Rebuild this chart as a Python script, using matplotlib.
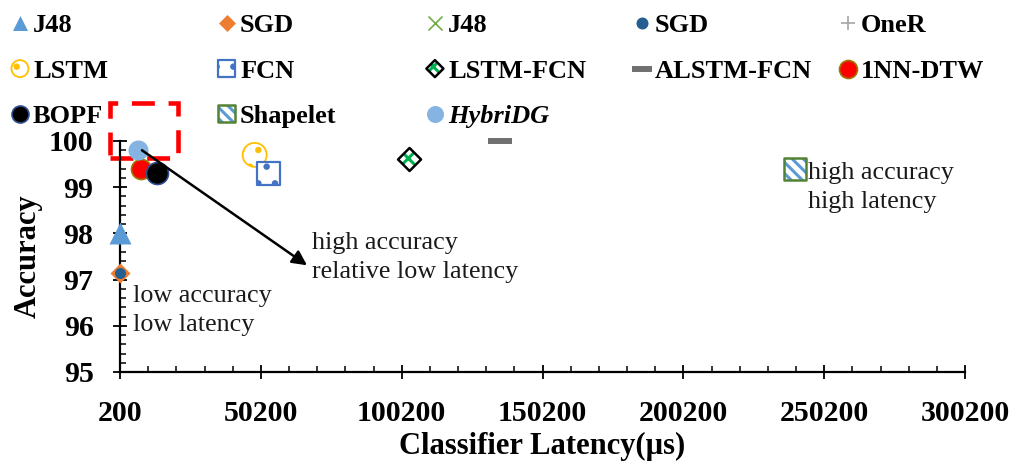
import matplotlib
matplotlib.use("Agg")
import matplotlib.pyplot as plt
from matplotlib.patches import Rectangle
from matplotlib.ticker import FixedLocator, MultipleLocator

plt.rcParams["font.family"] = ["Liberation Serif", "DejaVu Serif"]
plt.rcParams["hatch.linewidth"] = 2.2

# ---- data -------------------------------------------------------------
classifiers = ["J48", "SGD", "J48", "SGD", "OneR",
               "LSTM", "FCN", "LSTM-FCN", "ALSTM-FCN", "1NN-DTW",
               "BOPF", "Shapelet", "HybriDG"]
latency_us = [200, 200, 200, 200, 200,
              48000, 53000, 103000, 135000, 7500,
              13500, 240000, 6600]
accuracy = [98.0, 97.15, 98.0, 97.15, 97.15,
            99.7, 99.3, 99.6, 100.0, 99.4,
            99.3, 99.4, 99.8]

x_ticks = [200, 50200, 100200, 150200, 200200, 250200, 300200]
y_ticks = [95, 96, 97, 98, 99, 100]

focus_latency = [-3300, 20800]
focus_accuracy = [99.63, 100.82]
arrow_start = [8000, 99.8]
arrow_end = [66600, 97.31]

note_texts = ["high accuracy\nrelative low latency",
              "low accuracy\nlow latency",
              "high accuracy\nhigh latency"]
note_latency = [68400, 4800, 244500]
note_accuracy = [97.03, 95.89, 98.55]   # baseline of the last line

# ---- marker styles (size in px) ---------------------------------------
PX = 0.72  # points per pixel at 100 dpi


def area(px):
    return (px * PX) ** 2


styles = [
    # J48 (triangle)
    [dict(marker="^", s=area(22), color="#5B9BD5", lw=0)],
    # SGD (diamond)
    [dict(marker="D", s=area(20 / 1.414), color="#ED7D31", lw=0)],
    # J48 (cross)
    [dict(marker="x", s=area(6), color="#70AD47", lw=1.2)],
    # SGD (dot)
    [dict(marker="o", s=area(11), color="#255E91", lw=0)],
    # OneR
    [dict(marker="+", s=area(12), color="#A5A5A5", lw=1.2)],
    # LSTM
    [dict(marker="o", s=area(24), facecolor="white", edgecolor="#FFC000",
          lw=0, hatch="."),
     dict(marker="o", s=area(24), facecolor="none", edgecolor="#FFC000",
          lw=1.3)],
    # FCN
    [dict(marker="s", s=area(23), facecolor="white", edgecolor="#4472C4",
          lw=0, hatch="."),
     dict(marker="s", s=area(23), facecolor="none", edgecolor="#4472C4",
          lw=1.6)],
    # LSTM-FCN
    [dict(marker="D", s=area(23 / 1.414), facecolor="white",
          edgecolor="#00B050", lw=0, hatch="xx"),
     dict(marker="D", s=area(23 / 1.414), facecolor="none",
          edgecolor="black", lw=1.8)],
    # ALSTM-FCN
    [dict(marker="_", s=area(24), color="#707070", lw=4.3)],
    # 1NN-DTW
    [dict(marker="o", s=area(20), facecolor="#FF0000", edgecolor="#9C7A00",
          lw=1.2)],
    # BOPF
    [dict(marker="o", s=area(22), facecolor="black", edgecolor="#2F4F8F",
          lw=1.2)],
    # Shapelet
    [dict(marker="s", s=area(22), facecolor="white", edgecolor="#5B9BD5",
          lw=0, hatch="\\\\\\"),
     dict(marker="s", s=area(22), facecolor="none", edgecolor="#548235",
          lw=1.8)],
    # HybriDG
    [dict(marker="o", s=area(20), color="#85B4E3", lw=0)],
]

legend_px = [15, 17, 14, 12, 14, 17, 17, 17, 20, 18, 17, 17, 17]
draw_order = [2, 4, 0, 1, 3, 5, 6, 7, 8, 11, 9, 10, 12]


def layer_kwargs(st, size=None):
    kw = {k: v for k, v in st.items() if k not in ("lw",)}
    kw["linewidths"] = st["lw"]
    if size is not None:
        kw["s"] = size
    return kw


# ---- figure -----------------------------------------------------------
W, H = 1015, 461
fig = plt.figure(figsize=(W / 100, H / 100), dpi=100)
ax = fig.add_axes([120 / W, 1 - 372 / H, 845 / W, 231 / H])

ax.add_patch(Rectangle((focus_latency[0], focus_accuracy[0]),
                       focus_latency[1] - focus_latency[0],
                       focus_accuracy[1] - focus_accuracy[0],
                       fill=False, edgecolor="#FF0000", lw=3.3,
                       linestyle=(0, (5, 3)), clip_on=False, zorder=2))

for z, i in enumerate(draw_order):
    for layer in styles[i]:
        ax.scatter([latency_us[i]], [accuracy[i]], clip_on=False,
                   zorder=3 + z * 0.1, **layer_kwargs(layer))

ax.annotate("", xy=arrow_end, xytext=arrow_start,
            arrowprops=dict(arrowstyle="-|>", color="black", lw=1.8,
                            mutation_scale=22, shrinkA=0, shrinkB=0),
            zorder=6)

for txt, xv, yv in zip(note_texts, note_latency, note_accuracy):
    ax.text(xv, yv, txt, fontsize=18.8, ha="left", va="baseline",
            linespacing=1.4, color="#1a1a1a", zorder=7)

# axes styling
ax.set_xlim(200, 300200)
ax.set_ylim(95, 100)
for side in ("top", "right"):
    ax.spines[side].set_visible(False)
for side in ("left", "bottom"):
    ax.spines[side].set_linewidth(1.6)

ax.set_xticks(x_ticks, labels=[str(v) for v in x_ticks],
              fontweight="bold")
ax.set_yticks(y_ticks, labels=[str(v) for v in y_ticks],
              fontweight="bold")
ax.xaxis.set_minor_locator(FixedLocator(
    [200 + 10000 * k for k in range(31) if k % 5]))
ax.yaxis.set_minor_locator(MultipleLocator(0.2))
ax.tick_params(which="major", direction="inout", length=10, width=1.3,
               labelsize=21.5)
ax.tick_params(axis="x", which="major", pad=15)
ax.tick_params(axis="y", which="major", pad=14)
ax.tick_params(which="minor", direction="in", length=4, width=1.1)

ax.set_xlabel("Classifier Latency(\u00b5s)", fontsize=22, fontweight="bold")
ax.set_ylabel("Accuracy", fontsize=22, fontweight="bold")
ax.xaxis.set_label_coords(0.5, (372 - 446) / 231)
ax.xaxis.label.set_va("center")
ax.yaxis.set_label_coords((28 - 120) / 845, 0.5)
ax.yaxis.label.set_va("center")

# ---- legend: five columns, row-major entry order ----------------------
col_left = [12, 219, 427, 634, 840]
for c, xl in enumerate(col_left):
    idx = list(range(c, len(classifiers), 5))
    handles = []
    for i in idx:
        base_px = styles[i][0]["s"] ** 0.5 / PX
        if styles[i][0]["marker"] == "D":
            base_px *= 1.414
        ratio = legend_px[i] / base_px
        parts = tuple(
            ax.scatter([], [], **layer_kwargs(layer, layer["s"] * ratio ** 2))
            for layer in styles[i])
        handles.append(parts if len(parts) > 1 else parts[0])
    leg = fig.legend(handles, [classifiers[i] for i in idx],
                     loc="upper left", bbox_to_anchor=(xl / W, 1 - 14 / H),
                     frameon=False, borderpad=0, borderaxespad=0,
                     handlelength=0.6, handletextpad=0.2,
                     labelspacing=0.83, scatterpoints=1,
                     scatteryoffsets=[0.5],
                     prop=dict(size=19, weight="bold"))
    for i, t in zip(idx, leg.get_texts()):
        if classifiers[i] == "HybriDG":
            t.set_style("italic")

fig.savefig("out.png", dpi=100)
